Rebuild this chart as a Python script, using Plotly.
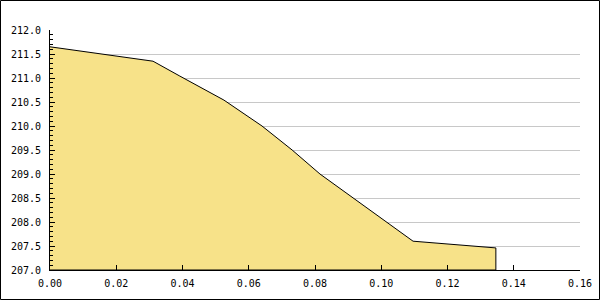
import plotly.graph_objects as go

x_vals = [0.0, 0.0311, 0.0392, 0.0525, 0.0640, 0.0731, 0.0815, 0.1096, 0.1346]
y_vals = [211.65, 211.35, 211.04, 210.54, 210.0, 209.5, 209.0, 207.6, 207.46]

y_min, y_max = 207.0, 212.0
x_min, x_max = 0.0, 0.16

fill_x = x_vals + [x_vals[-1], x_vals[0]]
fill_y = y_vals + [y_min, y_min]

fig = go.Figure()
fig.add_trace(go.Scatter(
    x=fill_x, y=fill_y, mode="lines", fill="toself",
    fillcolor="#F7E289", line=dict(color="black", width=1),
    hoverinfo="skip", showlegend=False,
))

W, H = 600, 300
ml, mr, mt, mb = 50, 20, 30, 30
pw, ph = W - ml - mr, H - mt - mb

font = dict(family="DejaVu Sans Mono", size=10, color="black")

fig.update_layout(
    width=W, height=H,
    margin=dict(l=ml, r=mr, t=mt, b=mb, pad=0, autoexpand=False),
    paper_bgcolor="white", plot_bgcolor="white",
    font=font,
    xaxis=dict(
        range=[x_min, x_max], dtick=0.02, tickformat=".2f",
        showgrid=False, zeroline=False,
        showline=True, linecolor="black", linewidth=1,
        ticks="inside", ticklen=5, tickcolor="black",
        tickfont=font, ticklabelstandoff=4, automargin=False,
    ),
    yaxis=dict(
        range=[y_min, y_max], dtick=0.5, tickformat=".1f",
        showgrid=True, gridcolor="#C8C8C8", gridwidth=1,
        zeroline=False,
        showline=True, linecolor="black", linewidth=1,
        ticks="inside", ticklen=5, tickcolor="black",
        minor=dict(dtick=0.1, ticks="inside", ticklen=3, tickcolor="black", showgrid=False),
        tickfont=font, ticklabelstandoff=6, automargin=False,
    ),
    shapes=[dict(
        type="rect", xref="paper", yref="paper",
        x0=(0.5 - ml) / pw, x1=(W - 0.5 - ml) / pw,
        y0=(H - 0.5 - (H - mb)) / -ph * 0 + (-(mb - 0.5)) / ph,
        y1=(H - 0.5 - mb) / ph,
        line=dict(color="black", width=1), fillcolor="rgba(0,0,0,0)",
    )],
)

fig.write_html(
    "out.html",
    config={"displayModeBar": False, "responsive": False},
    post_script="document.body.style.margin='0';document.body.style.overflow='hidden';",
)
